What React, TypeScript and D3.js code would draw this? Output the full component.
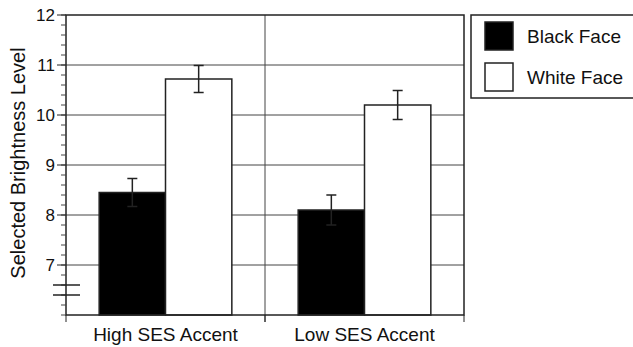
import React from 'react';
import * as d3 from 'd3';

const accents = ['High SES Accent', 'Low SES Accent'];
const faces = ['Black Face', 'White Face'];
const faceFill = ['#000', '#fff'];
// means per accent, in face order
const means = [
  [8.45, 10.72],
  [8.1, 10.2],
];
const errs = [
  [0.28, 0.27],
  [0.3, 0.29],
];
const yTicks = [7, 8, 9, 10, 11, 12];

export default function App() {
  const width = 633, height = 347;
  const left = 66, right = 464, top = 15, bottom = 315;
  const font = 'Liberation Sans, Arial, Helvetica, sans-serif';

  const y = d3.scaleLinear().domain([6, 12]).range([bottom, top]);
  const x0 = d3.scaleBand().domain(accents).range([left, right]);
  const x1 = d3.scaleBand().domain(faces).range([0, x0.bandwidth()]).paddingOuter(0.5).paddingInner(0);
  const minor = d3.range(6, 12.001, 0.2);

  return (
    <svg width={width} height={height} style={{ position: 'absolute', left: 0, top: 0, background: '#fff' }}>
      {/* grid */}
      {yTicks.slice(0, -1).map(t => (
        <line key={t} x1={left} x2={right} y1={y(t)} y2={y(t)} stroke="#444" strokeWidth={1} />
      ))}
      <line x1={x0(accents[1])} x2={x0(accents[1])} y1={top} y2={bottom + 7} stroke="#444" strokeWidth={1} />

      {/* bars */}
      {accents.map((a, i) => faces.map((f, j) => {
        const bx = (x0(a) as number) + (x1(f) as number);
        const cx = bx + x1.bandwidth() / 2;
        const m = means[i][j], e = errs[i][j];
        return (
          <g key={a + f}>
            <rect x={bx} y={y(m)} width={x1.bandwidth()} height={y(6) - y(m)} fill={faceFill[j]} stroke="#222" strokeWidth={1.5} />
            <line x1={cx} x2={cx} y1={y(m + e)} y2={y(m - e)} stroke="#222" strokeWidth={1.5} />
            <line x1={cx - 5} x2={cx + 5} y1={y(m + e)} y2={y(m + e)} stroke="#222" strokeWidth={1.5} />
            <line x1={cx - 5} x2={cx + 5} y1={y(m - e)} y2={y(m - e)} stroke="#222" strokeWidth={1.5} />
          </g>
        );
      }))}

      {/* frame */}
      <rect x={left} y={top} width={right - left} height={bottom - top} fill="none" stroke="#222" strokeWidth={1.5} />

      {/* y axis ticks */}
      {minor.map((t, i) => (
        <line key={i} x1={left - 5} x2={left} y1={y(t)} y2={y(t)} stroke="#444" strokeWidth={1} />
      ))}
      {yTicks.map(t => (
        <g key={t}>
          <line x1={left - 9} x2={left} y1={y(t)} y2={y(t)} stroke="#222" strokeWidth={1} />
          <text x={left - 11} y={y(t)} dy="0.35em" textAnchor="end" fontFamily={font} fontSize={17} fill="#111">{t}</text>
        </g>
      ))}
      {/* axis break */}
      <line x1={53} x2={80} y1={y(6.6)} y2={y(6.6)} stroke="#222" strokeWidth={1.5} />
      <line x1={53} x2={80} y1={y(6.4)} y2={y(6.4)} stroke="#222" strokeWidth={1.5} />

      {/* x axis ticks + labels */}
      {[left, x0(accents[1]) as number, right].map((v, i) => (
        <line key={i} x1={v} x2={v} y1={bottom} y2={bottom + 7} stroke="#222" strokeWidth={1} />
      ))}
      {accents.map(a => (
        <text key={a} x={(x0(a) as number) + x0.bandwidth() / 2} y={341} textAnchor="middle" fontFamily={font} fontSize={19} fill="#111">{a}</text>
      ))}

      <text transform={`translate(25,163) rotate(-90)`} textAnchor="middle" fontFamily={font} fontSize={20} fill="#111">Selected Brightness Level</text>

      {/* legend */}
      <rect x={471} y={15} width={170} height={83} fill="#fff" stroke="#222" strokeWidth={1.5} />
      {faces.map((f, j) => (
        <g key={f}>
          <rect x={485} y={22 + j * 41} width={28} height={28} fill={faceFill[j]} stroke="#222" strokeWidth={1.5} />
          <text x={527} y={36 + j * 41} dy="0.35em" fontFamily={font} fontSize={19} fill="#111">{f}</text>
        </g>
      ))}
    </svg>
  );
}
